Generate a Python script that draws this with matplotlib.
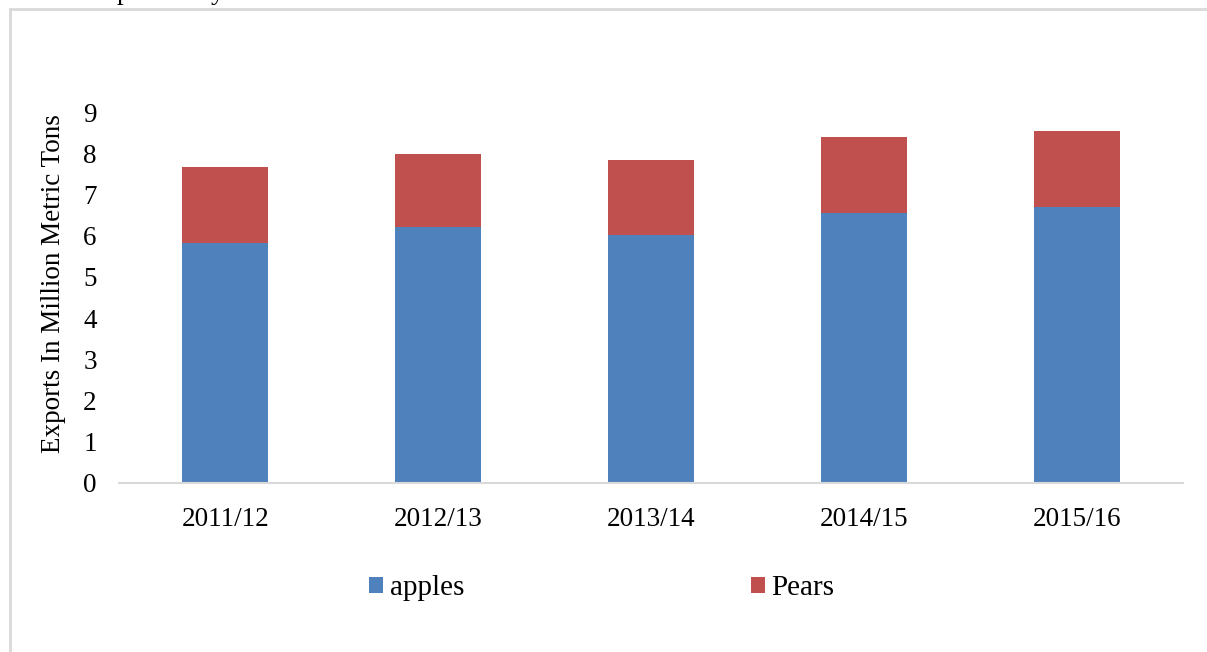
import matplotlib
matplotlib.use("Agg")
import matplotlib.pyplot as plt
from matplotlib.lines import Line2D
import numpy as np

categories = ["2011/12", "2012/13", "2013/14", "2014/15", "2015/16"]
apples = [5.81, 6.21, 6.01, 6.54, 6.70]
pears = [1.86, 1.78, 1.83, 1.86, 1.84]
yticks = [0, 1, 2, 3, 4, 5, 6, 7, 8, 9]

W, H = 1207, 652
plt.rcParams['font.family'] = ['Liberation Serif', 'DejaVu Serif']
fig = plt.figure(figsize=(W / 100, H / 100), dpi=100)

# outer frame (light gray)
fig.add_artist(Line2D([10 / W, 1.0], [1 - 9 / H, 1 - 9 / H], transform=fig.transFigure,
                      color="#d9d9d9", lw=2))
fig.add_artist(Line2D([10 / W, 10 / W], [0, 1 - 9 / H], transform=fig.transFigure,
                      color="#d9d9d9", lw=2))

# partially cut-off caption glyphs at top
fig.text(117 / W, 1 + 1 / H, "p", fontsize=19.5, va="baseline", ha="left", color="black")
fig.text(211 / W, 1 + 1 / H, "y", fontsize=19.5, va="baseline", ha="left", color="black")

left, right, top, bottom = 119, 1183, 112, 483
ax = fig.add_axes([left / W, 1 - bottom / H, (right - left) / W, (bottom - top) / H])

x = np.arange(len(categories))
ax.bar(x, apples, width=0.405, color="#4F81BD", label="apples", zorder=3)
ax.bar(x, pears, width=0.405, bottom=apples, color="#C0504D", label="Pears", zorder=3)

ax.set_xlim(-0.5, len(categories) - 0.5)
ax.set_ylim(0, 9)
ax.set_yticks(yticks)
ax.set_yticklabels([str(t) for t in yticks], fontsize=19.5)
ax.set_xticks(x)
ax.set_xticklabels(categories, fontsize=19.5)
ax.tick_params(axis="y", length=0, pad=16)
ax.tick_params(axis="x", length=0, pad=17)

for s in ["top", "right", "left"]:
    ax.spines[s].set_visible(False)
ax.spines["bottom"].set_color("#d9d9d9")
ax.spines["bottom"].set_linewidth(1.5)
ax.spines["bottom"].set_zorder(4)

ax.set_ylabel("Exports In Million Metric Tons", fontsize=19.5)
ax.yaxis.set_label_coords(-53 / (right - left), 0.5 + 14 / (bottom - top))

leg = fig.legend(loc="center", bbox_to_anchor=(602 / W, 1 - 588 / H), ncol=2,
                 frameon=False, fontsize=21, handlelength=0.48, handleheight=0.48,
                 handletextpad=0.24, columnspacing=9.8)

fig.savefig("out.png", dpi=100)
